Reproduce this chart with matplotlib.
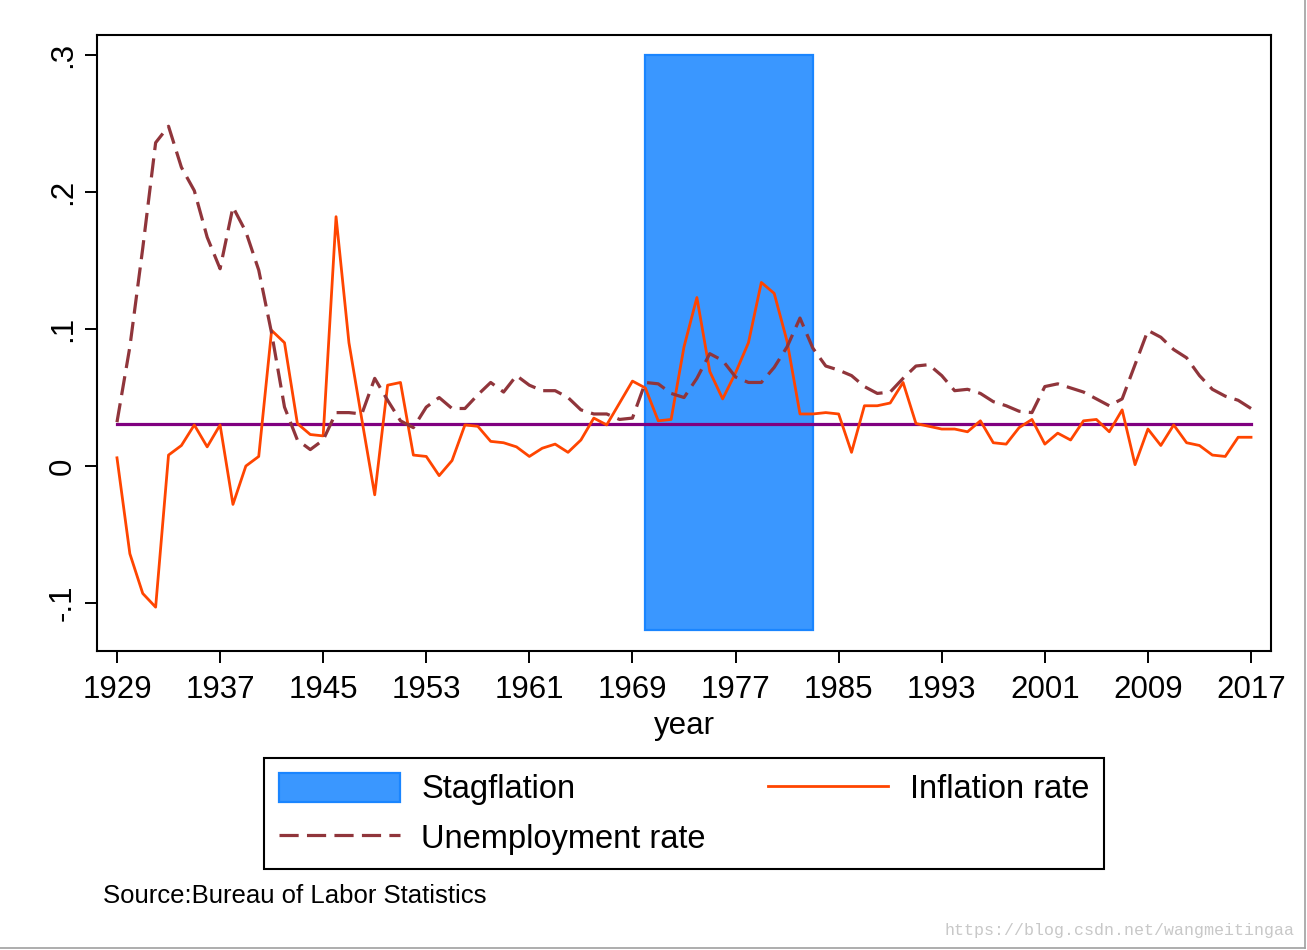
import matplotlib
matplotlib.use("Agg")
import matplotlib.pyplot as plt
from matplotlib.patches import Patch
from matplotlib.lines import Line2D
import numpy as np

plt.rcParams['font.family'] = ['Liberation Sans', 'DejaVu Sans']

# data
years = np.arange(1929, 2018)

inflation = [
    0.006, -0.064, -0.093, -0.103, 0.008, 0.015, 0.030, 0.014, 0.030, -0.028,
    0.000, 0.007, 0.099, 0.090, 0.031, 0.023, 0.022, 0.182, 0.090, 0.034,
    -0.021, 0.059, 0.061, 0.008, 0.007, -0.007, 0.004, 0.030, 0.029, 0.018,
    0.017, 0.014, 0.007, 0.013, 0.016, 0.010, 0.019, 0.035, 0.030, 0.046,
    0.062, 0.057, 0.033, 0.034, 0.087, 0.123, 0.069, 0.049, 0.068, 0.090,
    0.134, 0.126, 0.091, 0.038, 0.038, 0.039, 0.038, 0.010, 0.044, 0.044,
    0.046, 0.061, 0.031, 0.029, 0.027, 0.027, 0.025, 0.033, 0.017, 0.016,
    0.028, 0.034, 0.016, 0.024, 0.019, 0.033, 0.034, 0.025, 0.041, 0.001,
    0.027, 0.015, 0.030, 0.017, 0.015, 0.008, 0.007, 0.021, 0.021,
]

unemployment = [
    0.032, 0.087, 0.159, 0.236, 0.248, 0.218, 0.201, 0.167, 0.144, 0.189,
    0.171, 0.143, 0.097, 0.043, 0.019, 0.012, 0.019, 0.039, 0.039, 0.038,
    0.064, 0.048, 0.033, 0.028, 0.043, 0.050, 0.042, 0.042, 0.052, 0.061,
    0.054, 0.066, 0.059, 0.055, 0.055, 0.050, 0.041, 0.038, 0.038, 0.034,
    0.035, 0.061, 0.060, 0.053, 0.050, 0.064, 0.082, 0.077, 0.065, 0.061,
    0.061, 0.072, 0.087, 0.108, 0.086, 0.073, 0.070, 0.066, 0.058, 0.053,
    0.054, 0.064, 0.073, 0.074, 0.066, 0.055, 0.056, 0.053, 0.047, 0.044,
    0.040, 0.039, 0.058, 0.060, 0.057, 0.054, 0.049, 0.044, 0.049, 0.074,
    0.099, 0.094, 0.085, 0.079, 0.066, 0.056, 0.051, 0.048, 0.042,
]

mean_inflation = 0.031
stag_start, stag_end = 1970, 1983
stag_low, stag_high = -0.12, 0.30

xticks = np.arange(1929, 2018, 8)
yticks = [-0.1, 0, 0.1, 0.2, 0.3]
ytick_labels = ['-.1', '0', '.1', '.2', '.3']

W, H = 1307, 950
fig = plt.figure(figsize=(W / 100, H / 100), dpi=100)
ax = fig.add_axes([97 / W, 1 - 651 / H, (1271 - 97) / W, (651 - 35) / H])

bar_fill = '#3A97FF'
bar_edge = '#1A85FF'
orange = '#FF4500'
maroon = '#90353B'
purple = '#800080'
dash = (0, (6.0, 2.6))

ax.bar(stag_start, stag_high - stag_low, width=stag_end - stag_start,
       bottom=stag_low, align='edge', color=bar_fill, edgecolor=bar_edge,
       linewidth=1.6, zorder=1)
ax.plot(years, np.full(len(years), mean_inflation), color=purple, lw=2.3, zorder=2)
ax.plot(years, inflation, color=orange, lw=2.0, zorder=3)
ax.plot(years, unemployment, color=maroon, lw=2.3, linestyle=dash, zorder=4)

ax.set_xlim(1927.45, 2018.55)
ax.set_ylim(-0.135, 0.3146)
ax.set_xticks(xticks)
ax.set_xticklabels([str(x) for x in xticks])
ax.set_yticks(yticks)
ax.set_yticklabels(ytick_labels, rotation=90, va='center')
ax.tick_params(axis='both', direction='out', length=8.6, width=1.4,
               labelsize=22.5)
ax.tick_params(axis='x', pad=9)
ax.tick_params(axis='y', pad=5)
for s in ax.spines.values():
    s.set_linewidth(1.5)
ax.set_xlabel('year', fontsize=22.5, labelpad=4)

handles = [
    Patch(facecolor=bar_fill, edgecolor=bar_edge, linewidth=1.6),
    Line2D([], [], color=maroon, lw=2.3, linestyle=dash),
    Line2D([], [], color=orange, lw=2.0),
]
labels = ['Stagflation', 'Unemployment rate', 'Inflation rate']
leg = fig.legend(handles, labels, ncol=2, loc='upper center',
                 bbox_to_anchor=(684 / W, 1 - 758 / H), bbox_transform=fig.transFigure,
                 fontsize=23.5, frameon=True, fancybox=False, shadow=False,
                 handlelength=3.7, handleheight=1.0, handletextpad=0.65,
                 columnspacing=1.9, labelspacing=0.5, borderpad=0.45,
                 borderaxespad=0)
leg.get_frame().set_edgecolor('black')
leg.get_frame().set_linewidth(1.5)
leg.get_frame().set_alpha(1)

fig.text(103 / W, 1 - 896 / H, 'Source:Bureau of Labor Statistics',
         fontsize=18.5, ha='left', va='center')
fig.text(1295 / W, 1 - 930 / H, 'https://blog.csdn.net/wangmeitingaa',
         fontsize=12, ha='right', va='center', color='#C8C8C8',
         family='Liberation Mono')

# screenshot border on the right and bottom
fig.add_artist(Line2D([1305 / W, 1305 / W], [1 - 948 / H, 1], color='#A0A0A0',
                      lw=1.2, transform=fig.transFigure))
fig.add_artist(Line2D([0, 1305 / W], [1 - 948 / H, 1 - 948 / H], color='#A0A0A0',
                      lw=1.2, transform=fig.transFigure))

fig.savefig('out.png', dpi=100)
